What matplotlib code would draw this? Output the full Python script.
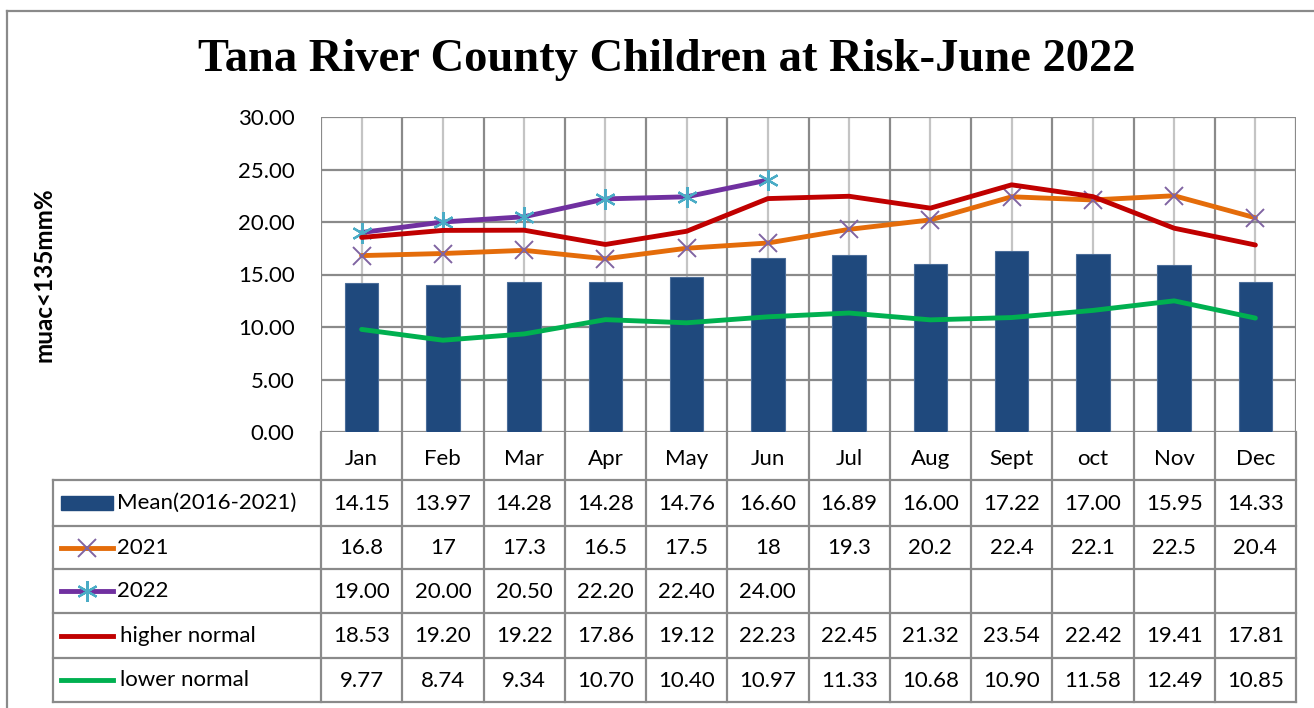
import matplotlib.pyplot as plt
from matplotlib.patches import Rectangle

months = ['Jan', 'Feb', 'Mar', 'Apr', 'May', 'Jun', 'Jul', 'Aug', 'Sept', 'oct', 'Nov', 'Dec']
mean_2016_2021 = [14.15, 13.97, 14.28, 14.28, 14.76, 16.60, 16.89, 16.00, 17.22, 17.00, 15.95, 14.33]
y2021 = [16.8, 17, 17.3, 16.5, 17.5, 18, 19.3, 20.2, 22.4, 22.1, 22.5, 20.4]
y2022 = [19.00, 20.00, 20.50, 22.20, 22.40, 24.00]
higher_normal = [18.53, 19.20, 19.22, 17.86, 19.12, 22.23, 22.45, 21.32, 23.54, 22.42, 19.41, 17.81]
lower_normal = [9.77, 8.74, 9.34, 10.70, 10.40, 10.97, 11.33, 10.68, 10.90, 11.58, 12.49, 10.85]

W, H = 1314, 708
FONT = 'Lato'
GRID = '#8a8a8a'
LIGHT = '#c4c4c4'
BAR = '#1f497d'

fig = plt.figure(figsize=(W / 100, H / 100), dpi=100)

# plot area in pixels
px0, px1, py0, py1 = 321, 1296, 117, 432
ax = fig.add_axes([px0 / W, 1 - py1 / H, (px1 - px0) / W, (py1 - py0) / H])
ax.set_xlim(-0.5, 11.5)
ax.set_ylim(0, 30)
for s in ax.spines.values():
    s.set_visible(False)

n = len(months)
x = list(range(n))
for i in x:
    ax.axvline(i, color=LIGHT, lw=1.6, zorder=0)
for i in range(n + 1):
    ax.axvline(i - 0.5, color=GRID, lw=1.6, zorder=0.5)
for yv in range(0, 31, 5):
    ax.axhline(yv, color=GRID, lw=1.6, zorder=0.5)

ax.bar(x, mean_2016_2021, width=0.41, color=BAR, edgecolor='#4a6d99', lw=0.8, zorder=2)
ax.plot(x, y2021, color='#e46c0a', lw=3.5, solid_capstyle='round', zorder=3,
        marker='x', ms=13.5, mec='#8064a2', mew=1.4)
ax.plot(range(len(y2022)), y2022, color='#7030a0', lw=3.5, solid_capstyle='round', zorder=3,
        marker=(6, 2, 0), ms=15, mec='#4bacc6', mew=1.6)
ax.plot(x, higher_normal, color='#c00000', lw=3.5, solid_capstyle='round', zorder=4)
ax.plot(x, lower_normal, color='#00b050', lw=3.5, solid_capstyle='round', zorder=4)

ax.set_yticks(range(0, 31, 5))
ax.set_yticklabels(['%.2f' % v for v in range(0, 31, 5)], fontsize=16, family=FONT)
ax.tick_params(axis='y', length=0, pad=19)
ax.set_xticks([])

# overlay in pixel coordinates for table, labels, border
ov = fig.add_axes([0, 0, 1, 1], zorder=-1)
ov.set_xlim(0, W)
ov.set_ylim(H, 0)
ov.axis('off')

ov.plot([7, 7], [H + 5, 11], color=GRID, lw=1.6)
ov.plot([7, W + 5], [11, 11], color=GRID, lw=1.6)

ov.text(667, 60, 'Tana River County Children at Risk-June 2022', ha='center', va='center',
        fontsize=33.5, fontweight='bold', family='Liberation Serif')
ov.text(44, 275, 'muac<135mm%', rotation=90, ha='center', va='center',
        fontsize=17.5, fontweight='bold', family=FONT)

col_w = (px1 - px0) / n
row_y = [432, 480, 526, 569, 613, 658, 702]
legend_left = 53

# table grid
for ry in row_y[1:]:
    ov.plot([legend_left, px1], [ry, ry], color=GRID, lw=1.6)
for i in range(n + 1):
    ov.plot([px0 + i * col_w] * 2, [row_y[0], row_y[-1]], color=GRID, lw=1.6)
ov.plot([legend_left] * 2, [row_y[1], row_y[-1]], color=GRID, lw=1.6)

# category labels
for i, m in enumerate(months):
    ov.text(px0 + (i + 0.5) * col_w, (row_y[0] + row_y[1]) / 2 + 3, m, ha='center', va='center',
            fontsize=16, family=FONT)

rows = [
    ('Mean(2016-2021)', ['%.2f' % v for v in mean_2016_2021]),
    ('2021', ['{:g}'.format(v) for v in y2021]),
    ('2022', ['%.2f' % v for v in y2022]),
    ('higher normal', ['%.2f' % v for v in higher_normal]),
    ('lower normal', ['%.2f' % v for v in lower_normal]),
]
for r, (name, vals) in enumerate(rows):
    yc = (row_y[r + 1] + row_y[r + 2]) / 2
    for i, t in enumerate(vals):
        ov.text(px0 + (i + 0.5) * col_w, yc + 1, t, ha='center', va='center',
                fontsize=16, family=FONT)
    tx = 117 if r < 3 else 120
    ov.text(tx, yc, name, ha='left', va='center', fontsize=16, family=FONT)

# legend keys
k0, k1 = 61, 113
kc = (k0 + k1) / 2
y_keys = [(row_y[r + 1] + row_y[r + 2]) / 2 for r in range(5)]
ov.add_patch(Rectangle((k0, y_keys[0] - 7), k1 - k0, 14, color=BAR))
ov.plot([k0, k1], [y_keys[1]] * 2, color='#e46c0a', lw=3.5)
ov.plot([kc], [y_keys[1]], marker='x', ms=13.5, mec='#8064a2', mew=1.4)
ov.plot([k0, k1], [y_keys[2]] * 2, color='#7030a0', lw=3.5)
ov.plot([kc], [y_keys[2]], marker=(6, 2, 0), ms=15, mec='#4bacc6', mew=1.6)
ov.plot([k0, k1], [y_keys[3]] * 2, color='#c00000', lw=3.5)
ov.plot([k0, k1], [y_keys[4]] * 2, color='#00b050', lw=3.5)

fig.savefig('out.png', dpi=100)
